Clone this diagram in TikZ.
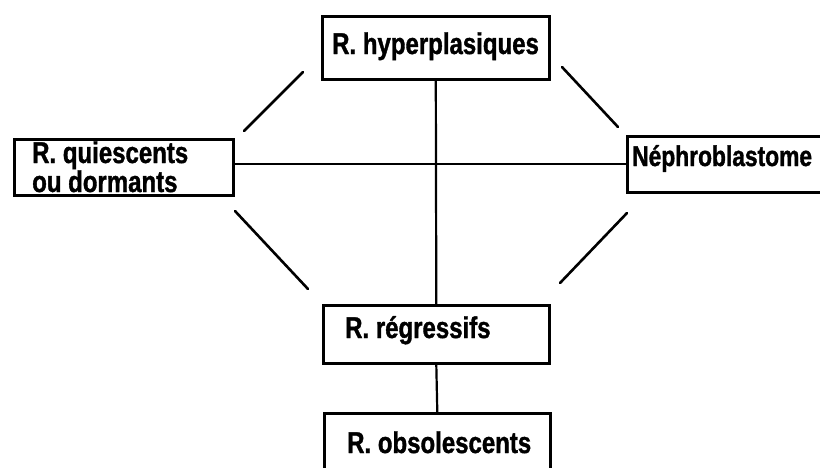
\documentclass[tikz,border=0pt]{standalone}
\usepackage{fontspec}
\newfontfamily\labfont{Liberation Sans}[FakeStretch=0.8,FakeBold=1.2]
\begin{document}
\begin{tikzpicture}[x=1pt,y=-1pt,
  box/.style={draw=black, line width=2.6pt, rectangle, inner sep=0pt, anchor=north west},
  lbl/.style={font=\labfont\bfseries\fontsize{30}{33}\selectfont, inner sep=0pt, anchor=base west},
  conn/.style={line width=2.2pt, line cap=round},
  diag/.style={line width=2.6pt, line cap=round}]
\useasboundingbox (0,0) rectangle (820,467);
\clip (0,0) rectangle (820,467);
% boxes
\node[box, minimum width=227pt, minimum height=63pt] (hyp) at (321,15) {};
\node[box, minimum width=219pt, minimum height=56pt] (qui) at (13,138) {};
\node[box, minimum width=220pt, minimum height=56pt] (nep) at (626,135) {};
\node[box, minimum width=226pt, minimum height=58pt] (reg) at (322,304) {};
\node[box, minimum width=226pt, minimum height=80pt] (obs) at (323,412) {};
% labels
\node[lbl] (thyp) at (332,54) {R. hyperplasiques};
\node[lbl] (tqui1) at (32,163) {R. quiescents};
\node[lbl] (tqui2) at (32,192) {ou dormants};
\node[lbl, font=\labfont\bfseries\fontsize{28.5}{32}\selectfont] (tnep) at (632,166) {Néphroblastome};
\node[lbl] (treg) at (345,338) {R. régressifs};
\node[lbl] (tobs) at (347,453) {R. obsolescents};
% connectors
\draw[conn] (hyp.south) -- (reg.north);
\draw[conn] ([yshift=3pt]qui.east) -- ([yshift=3pt]qui.east -| nep.west);
\draw[conn] (reg.south) -- (obs.north);
% diagonal strokes
\draw[diag] (303,72) -- (244,131);
\draw[diag] (562,67) -- (618,127);
\draw[diag] (235,211) -- (308,289);
\draw[diag] (627,213) -- (560,283);
\end{tikzpicture}
\end{document}
